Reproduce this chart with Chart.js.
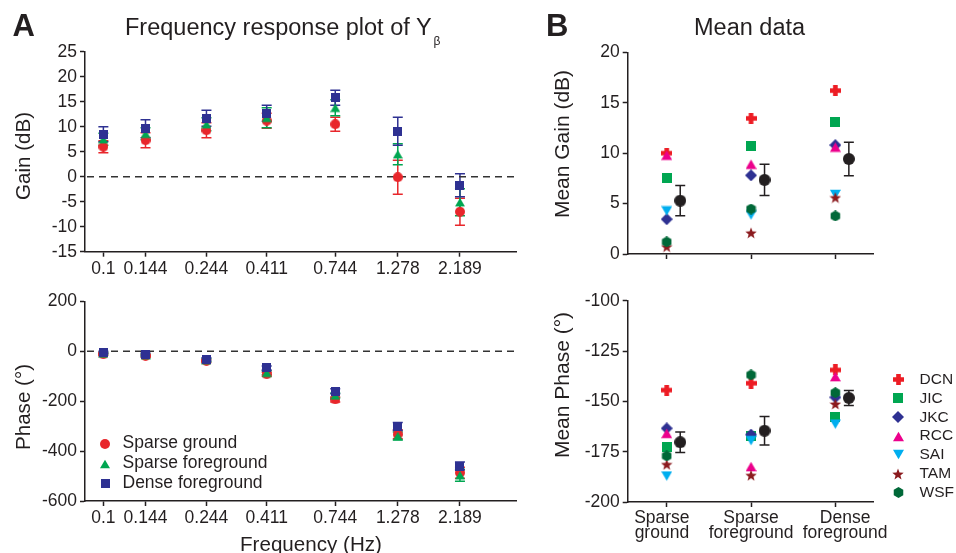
<!DOCTYPE html>
<html>
<head>
<meta charset="utf-8">
<script src="https://cdn.jsdelivr.net/npm/chart.js@4.4.1/dist/chart.umd.min.js"></script>
<style>
  body { margin: 0; width: 956px; height: 553px; position: relative; overflow: hidden; background: #fff;
         font-family: 'Liberation Sans', Arial, sans-serif; color: #231f20; }
  canvas.plot { position: absolute; }
  .txt { position: absolute; white-space: nowrap; line-height: 1; }
  .ytitle { position: absolute; white-space: nowrap; line-height: 1; transform: translate(-50%, -50%) rotate(-90deg); }
</style>
</head>
<body>
<canvas class="plot" id="gainA" width="530" height="280" style="left:0;top:0"></canvas>
<canvas class="plot" id="phaseA" width="530" height="273" style="left:0;top:280px"></canvas>
<canvas class="plot" id="gainB" width="426" height="280" style="left:530px;top:0"></canvas>
<canvas class="plot" id="phaseB" width="426" height="273" style="left:530px;top:280px"></canvas>

<div class="txt" style="left:12.5px;top:9.8px;font-size:31px;font-weight:bold">A</div>
<div class="txt" style="left:125px;top:16px;font-size:23.5px">Frequency response plot of Y<span style="font-size:12px;position:relative;top:9.5px;margin-left:2px">β</span></div>
<div class="txt" style="left:546px;top:9.8px;font-size:31px;font-weight:bold">B</div>
<div class="txt" style="left:694px;top:16px;font-size:23.5px">Mean data</div>
<div class="txt" style="left:240px;top:534px;font-size:20.6px">Frequency (Hz)</div>
<div class="ytitle" style="left:22.5px;top:156px;font-size:20.6px">Gain (dB)</div>
<div class="ytitle" style="left:22.5px;top:406.7px;font-size:20.6px">Phase (°)</div>
<div class="ytitle" style="left:561px;top:144px;font-size:21px">Mean Gain (dB)</div>
<div class="ytitle" style="left:561px;top:385px;font-size:21px">Mean Phase (°)</div>

<script>
// ---- panel A: frequency response ----
const freqs = [0.1, 0.144, 0.244, 0.411, 0.744, 1.278, 2.189];
const freqLabels = ['0.1', '0.144', '0.244', '0.411', '0.744', '1.278', '2.189'];

const gainSparseGround = [6.0, 7.3, 9.3, 11.2, 10.5, -0.1, -7.0];
const gainSparseGroundErr = [1.2, 1.5, 1.5, 1.5, 1.4, 3.4, 2.7];
const gainSparseFg = [7.5, 8.6, 10.5, 11.8, 13.8, 4.5, -5.1];
const gainSparseFgErr = [1.2, 1.2, 1.3, 2.0, 1.6, 2.1, 2.7];
const gainDenseFg = [8.5, 9.6, 11.7, 12.7, 15.8, 9.1, -1.7];
const gainDenseFgErr = [1.5, 1.8, 1.6, 1.6, 1.5, 2.8, 2.3];

const phaseSparseGround = [-12, -19, -39, -92, -193, -333, -487];
const phaseSparseGroundErr = [4, 5, 6, 8, 10, 18, 22];
const phaseSparseFg = [-9, -16, -36, -86, -177, -340, -497];
const phaseSparseFgErr = [4, 5, 6, 8, 10, 16, 24];
const phaseDenseFg = [-4, -12, -32, -67, -160, -302, -460];
const phaseDenseFgErr = [4, 5, 6, 8, 10, 16, 16];

// ---- panel B: mean data per animal ----
const conditions = [['Sparse', 'ground'], ['Sparse', 'foreground'], ['Dense', 'foreground']];
const animals = ['DCN', 'JIC', 'JKC', 'RCC', 'SAI', 'TAM', 'WSF'];

const meanGainSparseGround = [10.0, 7.57, 3.45, 9.8, 4.27, 0.73, 1.2];
const meanGainSparseFg = [13.45, 10.74, 7.8, 8.9, 3.87, 2.1, 4.46];
const meanGainDenseFg = [16.2, 13.1, 10.8, 10.6, 5.9, 5.6, 3.77];
const groupGain = [5.29, 7.35, 9.42];
const groupGainErr = [1.49, 1.55, 1.67];

const meanPhaseSparseGround = [-144.4, -172.8, -163.4, -165.9, -187.1, -181.3, -177.1];
const meanPhaseSparseFg = [-141.0, -167.0, -166.5, -182.4, -169.5, -186.7, -136.9];
const meanPhaseDenseFg = [-134.4, -157.6, -148.0, -137.7, -161.3, -151.3, -145.7];
const groupPhase = [-170.3, -164.6, -148.3];
const groupPhaseErr = [5.1, 7.1, 3.7];

const INK = '#231f20';
const FONT = "'Liberation Sans', Arial, sans-serif";
const MEAN_SHIFT = 0.16;
// the original labels sit a little off their ticks; nudge with spaces
const labelLead = ['', '', '    '];
const labelTrail = ['  ', '', ''];

const seriesStyles = [
    { label: 'Sparse ground', color: '#e8262b', shape: 'circle', size: 10 },
    { label: 'Sparse foreground', color: '#00a651', shape: 'tri', size: 10 },
    { label: 'Dense foreground', color: '#2e3192', shape: 'square', size: 9 }
];
const animalStyles = [
    { color: '#ed1c24', shape: 'plus', size: 11 },
    { color: '#00a651', shape: 'square', size: 10 },
    { color: '#2e3192', shape: 'diamond', size: 12 },
    { color: '#ec008c', shape: 'tri', size: 11 },
    { color: '#00aeef', shape: 'triDown', size: 11 },
    { color: '#8b1a1e', shape: 'star', size: 12 },
    { color: '#006838', shape: 'hex', size: 11 }
];

// marker images used both by the charts and the legends
function markerCanvas(shape, color, size) {
    const c = document.createElement('canvas');
    c.width = size; c.height = size;
    const g = c.getContext('2d');
    const m = size / 2;
    g.fillStyle = color;
    g.beginPath();
    if (shape === 'circle') {
        g.arc(m, m, m, 0, Math.PI * 2);
    } else if (shape === 'square') {
        g.rect(0, 0, size, size);
    } else if (shape === 'diamond') {
        g.moveTo(m, 0); g.lineTo(size, m); g.lineTo(m, size); g.lineTo(0, m);
    } else if (shape === 'tri' || shape === 'triDown') {
        const h = size * 0.866, top = (size - h) / 2;
        if (shape === 'tri') {
            g.moveTo(m, top); g.lineTo(size, top + h); g.lineTo(0, top + h);
        } else {
            g.moveTo(0, top); g.lineTo(size, top); g.lineTo(m, top + h);
        }
    } else if (shape === 'plus') {
        const a = size * 0.21;
        g.rect(m - a, 0, 2 * a, size);
        g.rect(0, m - a, size, 2 * a);
    } else if (shape === 'star') {
        for (let k = 0; k < 10; k++) {
            const r = k % 2 ? m * 0.42 : m;
            const t = -Math.PI / 2 + k * Math.PI / 5;
            g.lineTo(m + r * Math.cos(t), m + 0.6 + r * Math.sin(t));
        }
    } else if (shape === 'hex') {
        for (let k = 0; k < 6; k++) {
            const t = -Math.PI / 2 + k * Math.PI / 3;
            g.lineTo(m + m * Math.cos(t), m + m * Math.sin(t));
        }
    }
    g.closePath();
    g.fill();
    return c;
}

const errorBars = {
    id: 'errorBars',
    beforeDatasetsDraw(chart) {
        const { ctx, scales: { y } } = chart;
        chart.data.datasets.forEach((ds, i) => {
            if (!ds.errors) return;
            const meta = chart.getDatasetMeta(i);
            ctx.save();
            ctx.strokeStyle = ds.errorColor;
            ctx.lineWidth = 1.5;
            meta.data.forEach((pt, j) => {
                const v = ds.data[j].y, e = ds.errors[j];
                const top = y.getPixelForValue(v + e), bot = y.getPixelForValue(v - e);
                ctx.beginPath();
                ctx.moveTo(pt.x, top); ctx.lineTo(pt.x, bot);
                ctx.moveTo(pt.x - 5, top); ctx.lineTo(pt.x + 5, top);
                ctx.moveTo(pt.x - 5, bot); ctx.lineTo(pt.x + 5, bot);
                ctx.stroke();
            });
            ctx.restore();
        });
    }
};

const zeroLine = {
    id: 'zeroLine',
    beforeDatasetsDraw(chart) {
        const { ctx, chartArea, scales: { y } } = chart;
        const py = y.getPixelForValue(0);
        ctx.save();
        ctx.setLineDash([7, 5]);
        ctx.strokeStyle = '#333';
        ctx.lineWidth = 1.5;
        ctx.beginPath();
        ctx.moveTo(chartArea.left + 2, py);
        ctx.lineTo(chartArea.right, py);
        ctx.stroke();
        ctx.restore();
    }
};

function yAxis(min, max, step, width) {
    return {
        type: 'linear', min, max,
        ticks: { stepSize: step, color: INK, font: { family: FONT, size: 17.5 }, padding: 3 },
        grid: { drawOnChartArea: false, color: INK, tickLength: 5, tickWidth: 1.5 },
        border: { color: INK, width: 1.5 },
        afterFit: s => { s.width = width; }
    };
}

function freqAxis(height) {
    return {
        type: 'logarithmic', min: 0.0853, max: 3.577, bounds: 'data',
        afterBuildTicks: s => { s.ticks = freqs.map(v => ({ value: v })); },
        ticks: {
            autoSkip: false, maxRotation: 0, color: INK, padding: 2,
            font: { family: FONT, size: 17.5 },
            callback: (v, i) => freqLabels[i]
        },
        grid: { drawOnChartArea: false, color: INK, tickLength: 5, tickWidth: 1.5 },
        border: { color: INK, width: 1.5 },
        afterFit: s => { s.height = height; }
    };
}

function conditionAxis(height, showLabels) {
    return {
        type: 'linear', min: -0.463, max: 2.45, bounds: 'data',
        afterBuildTicks: s => { s.ticks = conditions.map((c, i) => ({ value: i })); },
        ticks: {
            autoSkip: false, maxRotation: 0, color: INK, padding: 3.5,
            font: { family: FONT, size: 17.5, lineHeight: 0.86 },
            callback: (v, i) => showLabels ? conditions[i].map(s => labelLead[i] + s + labelTrail[i]) : ''
        },
        grid: { drawOnChartArea: false, color: INK, tickLength: 5, tickWidth: 1.5 },
        border: { color: INK, width: 1.5 },
        afterFit: s => { s.height = height; }
    };
}

function freqDatasets(values, errs) {
    return seriesStyles.map((st, k) => ({
        label: st.label,
        data: freqs.map((f, i) => ({ x: f, y: values[k][i] })),
        errors: errs[k],
        errorColor: st.color,
        pointStyle: markerCanvas(st.shape, st.color, st.size),
        pointRadius: 5,
        order: 3 - k
    }));
}

function animalDatasets(groups, means, meanErrs) {
    const sets = animals.map((name, a) => ({
        label: name,
        data: groups.map((g, c) => ({ x: c, y: g[a] })),
        pointStyle: markerCanvas(animalStyles[a].shape, animalStyles[a].color, animalStyles[a].size),
        pointRadius: 5,
        order: 9 - a
    }));
    sets.push({
        label: 'Mean',
        data: means.map((v, c) => ({ x: c + MEAN_SHIFT, y: v })),
        errors: meanErrs,
        errorColor: INK,
        pointStyle: markerCanvas('circle', INK, 12),
        pointRadius: 6,
        order: 1
    });
    return sets;
}

function makeChart(id, datasets, scales, padding, extraPlugins) {
    return new Chart(document.getElementById(id), {
        type: 'scatter',
        data: { datasets },
        options: {
            responsive: false,
            devicePixelRatio: 1,
            animation: false,
            layout: { padding },
            scales,
            plugins: { legend: { display: false }, tooltip: { enabled: false } }
        },
        plugins: [errorBars].concat(extraPlugins || [])
    });
}

makeChart('gainA',
    freqDatasets([gainSparseGround, gainSparseFg, gainDenseFg], [gainSparseGroundErr, gainSparseFgErr, gainDenseFgErr]),
    { x: freqAxis(28.3), y: yAxis(-15, 25, 5, 85) },
    { top: 51.7, right: 13.3, bottom: 0, left: 0 }, [zeroLine]);

makeChart('phaseA',
    freqDatasets([phaseSparseGround, phaseSparseFg, phaseDenseFg], [phaseSparseGroundErr, phaseSparseFgErr, phaseDenseFgErr]),
    { x: freqAxis(52), y: yAxis(-600, 200, 200, 85) },
    { top: 21.3, right: 13.3, bottom: 0, left: 0 }, [zeroLine]);

makeChart('gainB',
    animalDatasets([meanGainSparseGround, meanGainSparseFg, meanGainDenseFg], groupGain, groupGainErr),
    { x: conditionAxis(26, false), y: yAxis(0, 20, 5, 97.7) },
    { top: 52.3, right: 82.7, bottom: 0, left: 0 });

makeChart('phaseB',
    animalDatasets([meanPhaseSparseGround, meanPhaseSparseFg, meanPhaseDenseFg], groupPhase, groupPhaseErr),
    { x: conditionAxis(51, true), y: yAxis(-200, -100, 25, 97.7) },
    { top: 20.7, right: 82.7, bottom: 0, left: 0 });

// legends
function addLegend(items, cx, y0, step, textLeft, fontSize) {
    items.forEach((it, i) => {
        const yc = y0 + i * step;
        const c = markerCanvas(it.shape, it.color, it.size);
        c.style.cssText = `position:absolute;left:${cx - c.width / 2}px;top:${yc - c.height / 2}px`;
        document.body.appendChild(c);
        const t = document.createElement('div');
        t.className = 'txt';
        t.style.left = textLeft + 'px';
        t.style.top = (yc - 1 - 0.4885 * fontSize) + 'px';
        t.style.fontSize = fontSize + 'px';
        t.textContent = it.label;
        document.body.appendChild(t);
    });
}

addLegend(seriesStyles, 105, 443.5, 20.2, 122.5, 17.5);
addLegend(animalStyles.map((s, i) => ({ ...s, label: animals[i] })), 898.3, 379.5, 18.85, 919.5, 15.5);
</script>
</body>
</html>
